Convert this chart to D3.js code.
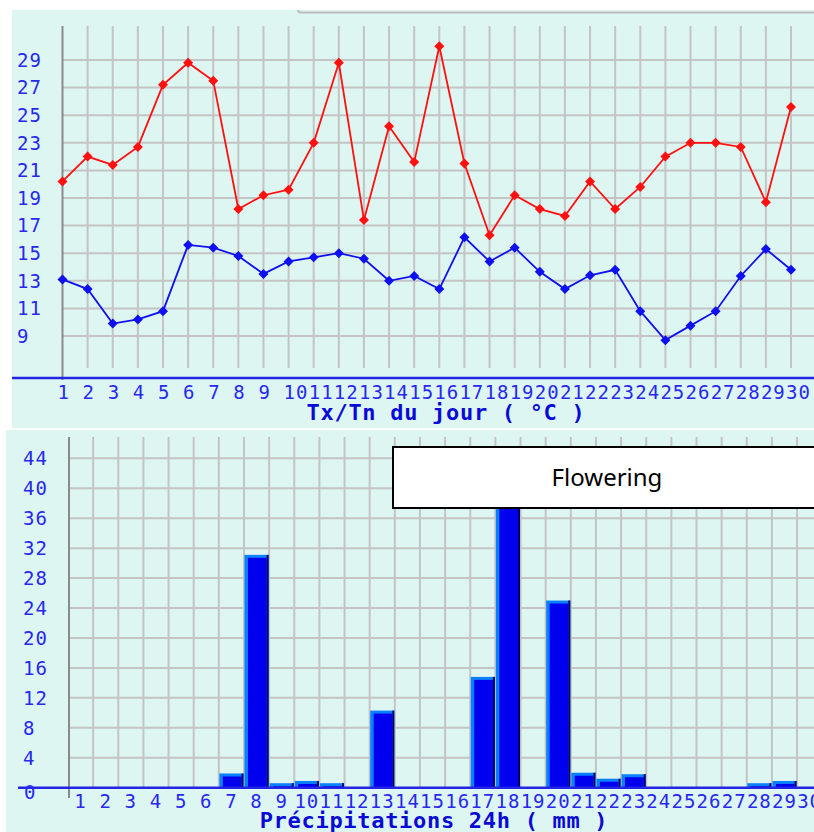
<!DOCTYPE html>
<html>
<head>
<meta charset="utf-8">
<script src="https://cdn.jsdelivr.net/npm/d3@7"></script>
<style>
  body { margin: 0; background: #fff; }
  svg { display: block; }
</style>
</head>
<body>
<div id="chart"></div>
<script>
// chart data
var days = d3.range(1, 31);

var tempMax = [20.2, 22.0, 21.4, 22.7, 27.2, 28.8, 27.5, 18.2, 19.2, 19.6,
               23.0, 28.8, 17.4, 24.2, 21.6, 30.0, 21.5, 16.3, 19.2, 18.2,
               17.7, 20.2, 18.2, 19.8, 22.0, 23.0, 23.0, 22.7, 18.7, 25.6];

var tempMin = [13.1, 12.4, 9.9, 10.2, 10.8, 15.6, 15.4, 14.8, 13.5, 14.4,
               14.7, 15.0, 14.6, 13.0, 13.35, 12.4, 16.15, 14.4, 15.4, 13.65,
               12.4, 13.4, 13.8, 10.8, 8.7, 9.75, 10.8, 13.35, 15.3, 13.8];

var rain = [0, 0, 0, 0, 0, 0, 1.9, 31.1, 0.6, 0.9,
            0.6, 0, 10.3, 0, 0, 0, 14.8, 40, 0, 25.0,
            2.0, 1.2, 1.8, 0, 0, 0, 0, 0.6, 0.9, 0];

var tempTicks = [9, 11, 13, 15, 17, 19, 21, 23, 25, 27, 29];
var rainTicks = [0, 4, 8, 12, 16, 20, 24, 28, 32, 36, 40, 44];

var tempTitle = "Tx/Tn du jour ( °C )";
var rainTitle = "Précipitations 24h ( mm )";
var noteText = "Flowering";

var W = 814, H = 832;
var bg = "#ddf6f1", gridCol = "#c4c4c4", axisGray = "#8a8a8a",
    labelBlue = "#2828f0", titleBlue = "#0a0ad8", axisBlue = "#2424e6";

var svg = d3.select("#chart").append("svg")
    .attr("width", W)
    .attr("height", H);

var monoFont = "'DejaVu Sans Mono', monospace";

// ---------- top panel : temperatures ----------
var tempPanel = svg.append("g");

tempPanel.append("rect")
    .attr("x", 12).attr("y", 10)
    .attr("width", W - 12).attr("height", 418)
    .attr("fill", bg);

// thin grey border of the element behind
tempPanel.append("path")
    .attr("d", "M298,10 Q298,12.5 301,12.5 L814,12.5")
    .attr("fill", "none")
    .attr("stroke", "#bdbdbd")
    .attr("stroke-width", 2);

var xT = d3.scaleLinear().domain([1, 30]).range([62.5, 791]);
var yT = d3.scaleLinear().domain([9, 29]).range([336, 60]);

// grid
tempPanel.selectAll(".vgrid")
    .data(days.slice(1))
    .enter().append("line")
    .attr("x1", function(d) { return xT(d); })
    .attr("x2", function(d) { return xT(d); })
    .attr("y1", 26).attr("y2", 368)
    .attr("stroke", gridCol).attr("stroke-width", 2);

tempPanel.selectAll(".hgrid")
    .data(tempTicks)
    .enter().append("line")
    .attr("x1", xT(1)).attr("x2", W)
    .attr("y1", function(d) { return yT(d); })
    .attr("y2", function(d) { return yT(d); })
    .attr("stroke", gridCol).attr("stroke-width", 2);

// vertical axis
tempPanel.append("line")
    .attr("x1", xT(1)).attr("x2", xT(1))
    .attr("y1", 26).attr("y2", 380)
    .attr("stroke", axisGray).attr("stroke-width", 2);

// horizontal blue axis
tempPanel.append("line")
    .attr("x1", 12).attr("x2", W)
    .attr("y1", 378).attr("y2", 378)
    .attr("stroke", axisBlue).attr("stroke-width", 2.5);

// y labels
tempPanel.selectAll(".ylab")
    .data(tempTicks)
    .enter().append("text")
    .attr("x", 17)
    .attr("y", function(d) { return yT(d); })
    .attr("dy", "0.36em")
    .attr("font-family", monoFont)
    .attr("font-size", "19px")
    .attr("letter-spacing", "1px")
    .attr("fill", labelBlue)
    .text(function(d) { return d; });

// x labels
tempPanel.selectAll(".xlab")
    .data(days)
    .enter().append("text")
    .attr("x", function(d) { return xT(d) - 5; })
    .attr("y", 392)
    .attr("dy", "0.36em")
    .attr("font-family", monoFont)
    .attr("font-size", "19px")
    .attr("letter-spacing", "1px")
    .attr("fill", labelBlue)
    .text(function(d) { return d; });

tempPanel.append("text")
    .attr("x", 446).attr("y", 412)
    .attr("dy", "0.36em")
    .attr("text-anchor", "middle")
    .attr("font-family", monoFont)
    .attr("font-weight", "bold")
    .attr("font-size", "22px")
    .attr("letter-spacing", "0.7px")
    .attr("fill", titleBlue)
    .text(tempTitle);

// lines with diamond markers
var line = d3.line()
    .x(function(d, i) { return xT(days[i]); })
    .y(function(d) { return yT(d); });

// square turned 45 degrees -> 10px diamond
var diamond = d3.symbol().type(d3.symbolSquare).size(50);

function drawSeries(values, colour) {
    tempPanel.append("path")
        .datum(values)
        .attr("d", line)
        .attr("fill", "none")
        .attr("stroke", colour)
        .attr("stroke-width", 1.8);

    tempPanel.selectAll(null)
        .data(values)
        .enter().append("path")
        .attr("d", diamond)
        .attr("transform", function(d, i) {
            return "translate(" + xT(days[i]) + "," + yT(d) + ") rotate(45)";
        })
        .attr("fill", colour);
}

drawSeries(tempMax, "#ff1010");
drawSeries(tempMin, "#1010ee");

// ---------- bottom panel : rain ----------
var rainPanel = svg.append("g");

rainPanel.append("rect")
    .attr("x", 6).attr("y", 430)
    .attr("width", W - 6).attr("height", H - 430)
    .attr("fill", bg);

var step = 25.14;
var xR = d3.scaleBand().domain(days).range([68, 68 + 30 * step]).padding(0);
var yR = d3.scaleLinear().domain([0, 44]).range([787.7, 458.3]);

rainPanel.selectAll(".vgrid")
    .data(days.slice(1))
    .enter().append("line")
    .attr("x1", function(d) { return xR(d); })
    .attr("x2", function(d) { return xR(d); })
    .attr("y1", 437).attr("y2", 787)
    .attr("stroke", gridCol).attr("stroke-width", 2);

rainPanel.selectAll(".hgrid")
    .data(rainTicks.slice(1))
    .enter().append("line")
    .attr("x1", xR(1)).attr("x2", W)
    .attr("y1", function(d) { return yR(d); })
    .attr("y2", function(d) { return yR(d); })
    .attr("stroke", gridCol).attr("stroke-width", 2);

rainPanel.append("line")
    .attr("x1", xR(1) + 1).attr("x2", xR(1) + 1)
    .attr("y1", 437).attr("y2", 798)
    .attr("stroke", axisGray).attr("stroke-width", 2);

// bars: light blue rim, dark blue body, dark right edge
var bars = rainPanel.selectAll(".bar")
    .data(rain.map(function(v, i) { return {day: days[i], value: v}; })
        .filter(function(d) { return d.value > 0; }))
    .enter().append("g");

bars.append("rect")
    .attr("x", function(d) { return xR(d.day) + 0.5; })
    .attr("y", function(d) { return yR(d.value); })
    .attr("width", xR.bandwidth() - 1)
    .attr("height", function(d) { return yR(0) - yR(d.value); })
    .attr("fill", "#0a80ff");

bars.append("rect")
    .attr("x", function(d) { return xR(d.day) + 4; })
    .attr("y", function(d) { return Math.min(yR(d.value) + 3, yR(0) - 1); })
    .attr("width", xR.bandwidth() - 6.5)
    .attr("height", function(d) { return Math.max(yR(0) - yR(d.value) - 3, 1); })
    .attr("fill", "#0000ee");

bars.append("rect")
    .attr("x", function(d) { return xR(d.day) + xR.bandwidth() - 2.5; })
    .attr("y", function(d) { return yR(d.value); })
    .attr("width", 2)
    .attr("height", function(d) { return yR(0) - yR(d.value); })
    .attr("fill", "#00006a");

// blue axis
rainPanel.append("line")
    .attr("x1", 18).attr("x2", W)
    .attr("y1", 787.7).attr("y2", 787.7)
    .attr("stroke", axisBlue).attr("stroke-width", 2.5);

rainPanel.selectAll(".ylab")
    .data(rainTicks)
    .enter().append("text")
    .attr("x", function(d) { return d === 0 ? 24 : 23; })
    .attr("y", function(d) { return d === 0 ? yR(d) + 4 : yR(d); })
    .attr("dy", "0.36em")
    .attr("font-family", monoFont)
    .attr("font-size", "19px")
    .attr("letter-spacing", "1px")
    .attr("fill", labelBlue)
    .text(function(d) { return d; });

rainPanel.selectAll(".xlab")
    .data(days)
    .enter().append("text")
    .attr("x", function(d) { return xR(d) + xR.bandwidth() / 2; })
    .attr("y", 801.5)
    .attr("dy", "0.36em")
    .attr("text-anchor", "middle")
    .attr("font-family", monoFont)
    .attr("font-size", "19px")
    .attr("letter-spacing", "1px")
    .attr("fill", labelBlue)
    .text(function(d) { return d; });

rainPanel.append("text")
    .attr("x", 434).attr("y", 820)
    .attr("dy", "0.36em")
    .attr("text-anchor", "middle")
    .attr("font-family", monoFont)
    .attr("font-weight", "bold")
    .attr("font-size", "22px")
    .attr("letter-spacing", "0.7px")
    .attr("fill", titleBlue)
    .text(rainTitle);

// annotation box
rainPanel.append("rect")
    .attr("x", 393).attr("y", 447)
    .attr("width", W - 393 + 5).attr("height", 61)
    .attr("fill", "#fff")
    .attr("stroke", "#000")
    .attr("stroke-width", 2);

rainPanel.append("text")
    .attr("x", 607).attr("y", 477)
    .attr("dy", "0.36em")
    .attr("text-anchor", "middle")
    .attr("font-family", "'Noto Sans', sans-serif")
    .attr("font-size", "24px")
    .attr("fill", "#000")
    .text(noteText);
</script>
</body>
</html>
